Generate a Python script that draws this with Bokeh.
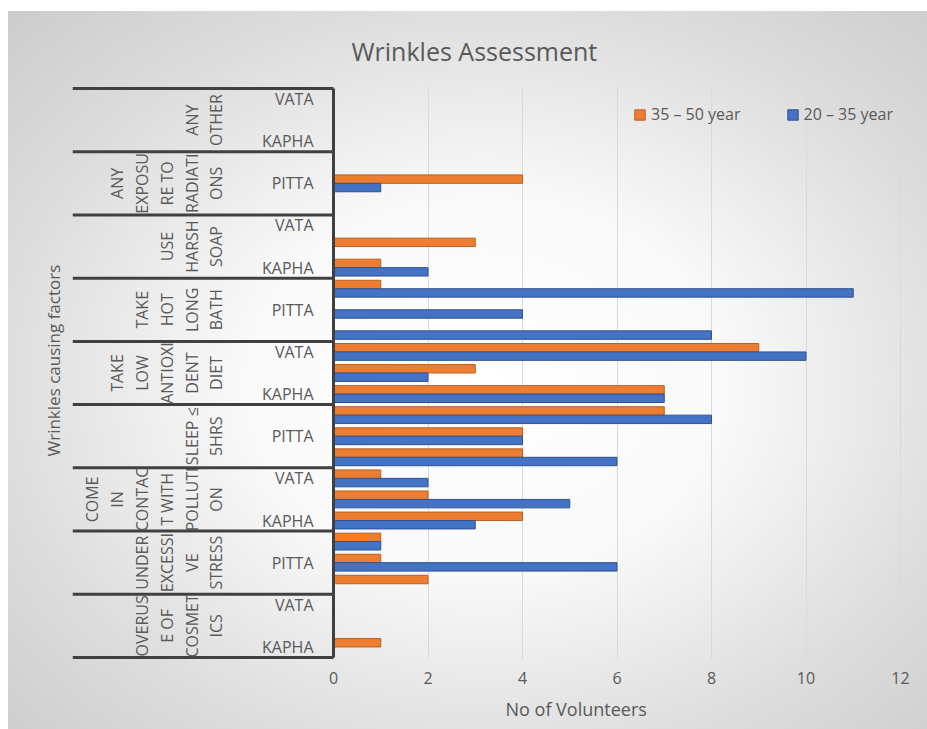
from math import pi
from bokeh.plotting import figure
from bokeh.models import Range1d, FixedTicker, Legend, LegendItem, Title, ColumnDataSource
from bokeh.core.properties import value
from bokeh.embed import file_html
from bokeh.resources import INLINE

# ---------------- data (top to bottom) ----------------
factors = [
    "ANY OTHER",
    "ANY EXPOSURE TO RADIATIONS",
    "USE HARSH SOAP",
    "TAKE HOT LONG BATH",
    "TAKE LOW ANTIOXIDENT DIET",
    "SLEEP ≤ 5HRS",
    "COME IN CONTACT WITH POLLUTION",
    "UNDER EXCESSIVE STRESS",
    "OVERUSE OF COSMETICS",
]
# wrapped as in the original chart
factor_labels = [
    "ANY\nOTHER",
    "ANY\nEXPOSU\nRE TO\nRADIATI\nONS",
    "USE\nHARSH\nSOAP",
    "TAKE\nHOT\nLONG\nBATH",
    "TAKE\nLOW\nANTIOXI\nDENT\nDIET",
    "SLEEP ≤\n5HRS",
    "COME\nIN\nCONTAC\nT WITH\nPOLLUTI\nON",
    "UNDER\nEXCESSI\nVE\nSTRESS",
    "OVERUS\nE OF\nCOSMET\nICS",
]
subcats = ["VATA", "PITTA", "KAPHA"]

# per factor: VATA, PITTA, KAPHA
age_35_50 = [0, 0, 0,
             0, 4, 0,
             0, 3, 1,
             1, 0, 0,
             9, 3, 7,
             7, 4, 4,
             1, 2, 4,
             1, 1, 2,
             0, 0, 1]
age_20_35 = [0, 0, 0,
             0, 1, 0,
             0, 0, 2,
             11, 4, 8,
             10, 2, 7,
             8, 4, 6,
             2, 5, 3,
             1, 6, 0,
             0, 0, 0]
series_names = ["35 – 50 year", "20 – 35 year"]
series_colors = ["#ED7D31", "#4472C4"]
series_lines = ["#B9611F", "#2F528F"]
x_ticks = [0, 2, 4, 6, 8, 10, 12]

# ---------------- layout helpers ----------------
FONT = "Open Sans"
TXT = "#595959"
PX_PER_UNIT = 47.25       # pixels per volunteer
ZERO_PX = 333             # page x of value 0
ROW_PX = 21.07            # pixels per category row
FRAME_L, FRAME_R, FRAME_T, FRAME_B = 72, 918, 86, 659
FIG_L, FIG_T, FIG_W, FIG_H = 8, 11, 919, 718

n_rows = len(factors) * len(subcats)
pad_rows = 2 / ROW_PX


def px_x(px):
    return (px - ZERO_PX) / PX_PER_UNIT


p = figure(
    width=FIG_W, height=FIG_H,
    x_range=Range1d(px_x(FRAME_L), px_x(FRAME_R)),
    y_range=Range1d(-pad_rows, n_rows + pad_rows),
    output_backend="svg", toolbar_location=None, tools="",
    y_axis_location=None,
    min_border_left=FRAME_L - FIG_L, min_border_right=FIG_L + FIG_W - FRAME_R,
    min_border_top=FRAME_T - FIG_T, min_border_bottom=FIG_T + FIG_H - FRAME_B,
)
p.margin = (FIG_T, 0, 0, FIG_L)
p.styles = {"background": "radial-gradient(ellipse farthest-corner at 52% 52%, #ffffff 0%, #f9f9f9 36%, #dddddd 72%, #cccccc 100%)"}
p.border_fill_color = None
p.background_fill_color = None
p.outline_line_color = None

# rows
row_y = [n_rows - i - 0.5 for i in range(n_rows)]
row_sub = [subcats[i % 3] for i in range(n_rows)]

# bars
BAR_H = 0.4
src_old = ColumnDataSource(dict(
    y=[row_y[i] + BAR_H / 2 for i in range(n_rows) if age_35_50[i] > 0],
    v=[age_35_50[i] for i in range(n_rows) if age_35_50[i] > 0]))
src_young = ColumnDataSource(dict(
    y=[row_y[i] - BAR_H / 2 for i in range(n_rows) if age_20_35[i] > 0],
    v=[age_20_35[i] for i in range(n_rows) if age_20_35[i] > 0]))

r_old = p.hbar(y="y", right="v", left=0, height=BAR_H, source=src_old,
               fill_color=series_colors[0], line_color=series_lines[0], line_width=1)
r_young = p.hbar(y="y", right="v", left=0, height=BAR_H, source=src_young,
                 fill_color=series_colors[1], line_color=series_lines[1], line_width=1)

# grid / axis
p.ygrid.visible = False
p.xaxis.ticker = FixedTicker(ticks=x_ticks)
p.xgrid.ticker = FixedTicker(ticks=x_ticks)
p.xgrid.grid_line_color = "#d9d9d9"
p.xgrid.grid_line_width = 1
p.xaxis.axis_line_color = None
p.xaxis.major_tick_line_color = None
p.xaxis.minor_tick_line_color = None
p.xaxis.major_tick_out = 0
p.xaxis.major_tick_in = 0
p.xaxis.major_label_standoff = 12
p.xaxis.major_label_text_font = FONT
p.xaxis.major_label_text_font_size = "16px"
p.xaxis.major_label_text_color = TXT

# category table lines
bounds = [k * len(subcats) for k in range(len(factors) + 1)]
p.segment(x0=[px_x(FRAME_L)] * len(bounds), x1=[0] * len(bounds), y0=bounds, y1=bounds,
          line_color="#404040", line_width=3)
p.segment(x0=[0], x1=[0], y0=[0], y1=[n_rows], line_color="#404040", line_width=3)

# sub-category labels (every other one shown, as in the original)
shown = [i for i in range(n_rows) if (n_rows - 1 - i) % 2 == 0]
p.text(x=[0] * len(shown), y=[row_y[i] for i in shown], text=[row_sub[i] for i in shown],
       x_offset=-20, text_align="right", text_baseline="middle",
       text_font=value(FONT), text_font_size="16px", text_color=TXT)

# factor labels (rotated)
grp_y = [n_rows - 3 * k - 1.5 for k in range(len(factors))]
p.text(x=[0] * len(factors), y=grp_y, text=factor_labels, angle=pi / 2,
       x_offset=-106, text_align="center", text_baseline="bottom",
       text_line_height=1.13,
       text_font=value(FONT), text_font_size="16px", text_color=TXT)

# titles
p.add_layout(Title(text="Wrinkles Assessment", align="left", offset=279, standoff=38,
                   text_font=FONT, text_font_size="25px", text_color=TXT,
                   text_font_style="normal"), "above")
p.add_layout(Title(text="No of Volunteers", align="left", offset=433, standoff=16,
                   text_font=FONT, text_font_size="18px", text_color=TXT,
                   text_font_style="normal"), "below")
p.add_layout(Title(text="Wrinkles causing factors", align="left", offset=203, standoff=15,
                   text_font=FONT, text_font_size="17px", text_color=TXT,
                   text_font_style="normal"), "left")

# legend
legend = Legend(items=[LegendItem(label=series_names[0], renderers=[r_old]),
                       LegendItem(label=series_names[1], renderers=[r_young])],
                orientation="horizontal", location=(633 - FRAME_L, FRAME_B - 125),
                glyph_width=13, glyph_height=13, label_standoff=5, spacing=45,
                padding=0, margin=0, background_fill_alpha=0, border_line_alpha=0,
                label_text_font=FONT, label_text_font_size="16px", label_text_color=TXT)
p.add_layout(legend)

open("out.html", "w").write(file_html(p, INLINE))
